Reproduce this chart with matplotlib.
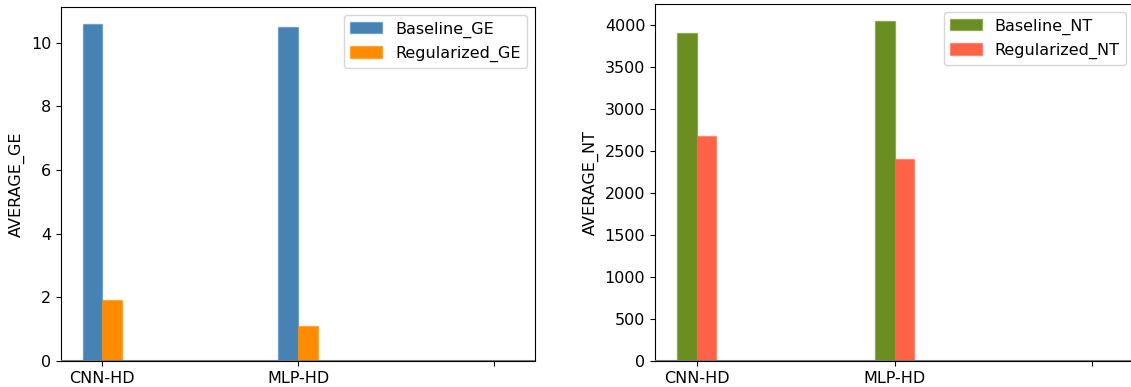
import matplotlib
matplotlib.use("Agg")
import matplotlib.pyplot as plt
import numpy as np
from matplotlib.colors import to_rgba

categories = ["CNN-HD", "MLP-HD", ""]
baseline_ge = [10.59, 10.48, 0.0]
regularized_ge = [1.92, 1.11, 0.0]
baseline_nt = [3905, 4044, 0]
regularized_nt = [2681, 2405, 0]

fig = plt.figure(figsize=(11.31, 3.87), dpi=100)
ax1 = fig.add_axes([61/1131, 26/387, (535-61)/1131, (361-7)/387])
ax2 = fig.add_axes([655/1131, 26/387, (1134-655)/1131, (361-4)/387])

x = np.arange(len(categories))
w = 0.1
fs = 11.5

def draw(ax, b, r, cb, cr, lb, lr, ylabel):
    ax.bar(x - w/2, b, w, color=cb, edgecolor=to_rgba(cb, 0.5), linewidth=1, label=lb)
    ax.bar(x + w/2, r, w, color=cr, edgecolor=to_rgba(cr, 0.5), linewidth=1, label=lr)
    ax.axhline(0, color="#777777", linewidth=1.5, zorder=3)
    ax.set_xticks(x)
    ax.set_xticklabels(categories, fontsize=fs)
    ax.tick_params(axis="y", labelsize=fs)
    ax.set_ylabel(ylabel, fontsize=fs)
    ax.legend(fontsize=fs, loc="upper right")

draw(ax1, baseline_ge, regularized_ge, "steelblue", "darkorange", "Baseline_GE", "Regularized_GE", "AVERAGE_GE")
draw(ax2, baseline_nt, regularized_nt, "olivedrab", "tomato", "Baseline_NT", "Regularized_NT", "AVERAGE_NT")

fig.savefig("out.png", dpi=100)
